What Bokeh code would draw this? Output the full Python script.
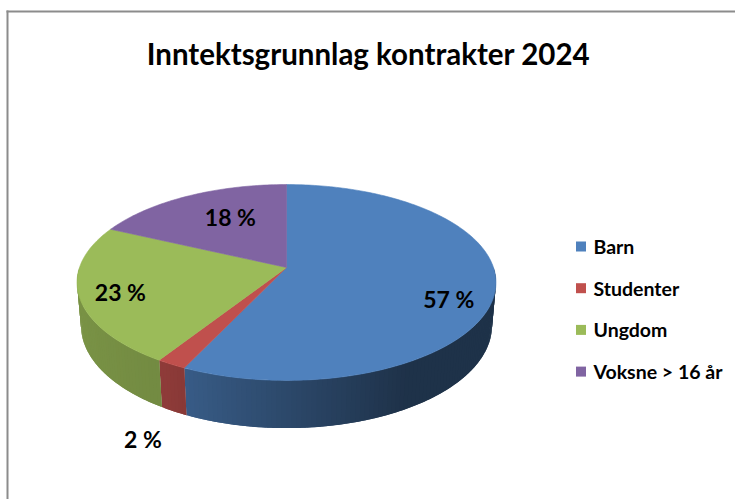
import numpy as np
from bokeh.plotting import figure
from bokeh.models import Range1d, Label
from bokeh.core.properties import value
from bokeh.embed import file_html
from bokeh.resources import INLINE

# ---- data ----
title = "Inntektsgrunnlag kontrakter 2024"
categories = ["Barn", "Studenter", "Ungdom", "Voksne > 16 år"]
shares = [57, 2, 23, 18]
pct_labels = ["57 %", "2 %", "23 %", "18 %"]
colors = ["#4F81BD", "#C0504D", "#9BBB59", "#8064A2"]

# ---- label placement (layout only) ----
label_r = [0.81, 1.23, 0.81, 0.65]
label_dphi = [-10.4, 0.0, 1.3, -5.4]
label_bottom = [False, True, False, False]

W, H = 735, 499
p = figure(width=W, height=H, x_range=Range1d(0, W), y_range=Range1d(H, 0),
           output_backend="svg", toolbar_location=None, min_border=0,
           x_axis_type=None, y_axis_type=None)
p.grid.visible = False
p.outline_line_color = None
p.background_fill_color = "white"
p.border_fill_color = "white"

FONT = "Lato"

# border of chart area
p.line(x=[7, 7], y=[10, H], line_color="#8c8c8c", line_width=2)
p.line(x=[6, W], y=[11, 11], line_color="#8c8c8c", line_width=2)

# ---- 3D pie geometry ----
CX, CY, R = 286.0, 267.0, 207.0
SA = 0.462
CA = np.sqrt(1 - SA ** 2)
DIST = 5.8 * R
DEPTH = 49.0


def proj(phi_deg, z=0.0, r=R):
    phi = np.radians(phi_deg)
    X = r * np.cos(phi)
    yb = r * np.sin(phi)
    Z = yb * CA - z * SA
    Yup = yb * SA + z * CA
    k = DIST / (DIST + Z)
    return CX + X * k, CY - Yup * k


def shade(hexcol, f):
    h = hexcol.lstrip("#")
    rgb = [int(h[i:i + 2], 16) for i in (0, 2, 4)]
    return "#%02x%02x%02x" % tuple(int(max(0, min(255, c * f))) for c in rgb)


def side_factor(phi_deg):
    c = np.cos(np.radians(phi_deg))
    if c < -0.5:
        return 0.74 - 0.1 * (c + 0.5)
    return 0.74 - 0.35 * min(1.0, (c + 0.5) / 1.0)


total = float(sum(shares))
starts, ends = [], []
acc = 0.0
for s in shares:
    a0 = 90.0 - acc * 360.0 / total
    acc += s
    a1 = 90.0 - acc * 360.0 / total
    starts.append(a0)
    ends.append(a1)

# sides (front half only, phi in [-180, 0]); strips overlap to avoid seams
sx, sy, sc = [], [], []
for a0, a1, col in zip(starts, ends, colors):
    lo, hi = max(a1, -180.0), min(a0, 0.0)
    if hi <= lo:
        continue
    n = max(2, int(np.ceil((hi - lo) / 1.2)))
    edges = np.linspace(lo, hi, n + 1)
    for i in range(n):
        e0 = edges[i]
        e1 = edges[min(i + 2, n)]
        arc = np.linspace(e0, e1, 4)
        tx, ty = proj(arc)
        bx, by = proj(arc[::-1], -DEPTH)
        sx.append(list(tx) + list(bx))
        sy.append(list(ty) + list(by))
        sc.append(shade(col, side_factor(0.5 * (edges[i] + edges[i + 1]))))
p.patches(sx, sy, fill_color=sc, line_color=None)

# top faces
txs, tys = [], []
for a0, a1 in zip(starts, ends):
    ang = np.linspace(a0, a1, max(3, int(abs(a0 - a1) / 1.0)))
    x, y = proj(ang)
    txs.append([CX] + list(x))
    tys.append([CY] + list(y))
p.patches(txs, tys, fill_color=colors, line_color=colors, line_width=0.6)

# percentage labels
lx, ly = [], []
for a0, a1, r, dphi, bot in zip(starts, ends, label_r, label_dphi, label_bottom):
    mid = 0.5 * (a0 + a1) + dphi
    x, y = proj(mid, -DEPTH if bot else 0.0, r * R)
    lx.append(x)
    ly.append(y)
p.text(x=lx, y=ly, text=pct_labels, text_font=value(FONT), text_font_style="bold",
       text_font_size="23px", text_color="black", text_align="center", text_baseline="middle")

# title
p.add_layout(Label(x=368, y=53, text=title, text_font=FONT, text_font_style="bold",
                   text_font_size="29.5px", text_color="black", text_align="center",
                   text_baseline="middle"))

# legend
LEG_X, LEG_Y0, LEG_DY = 580.5, 246.0, 41.7
leg_y = [LEG_Y0 + i * LEG_DY for i in range(len(categories))]
p.rect(x=[LEG_X] * len(categories), y=leg_y, width=10, height=10,
       fill_color=colors, line_color=None)
p.text(x=[LEG_X + 12.5] * len(categories), y=leg_y, text=categories,
       text_font=value(FONT), text_font_style="bold", text_font_size="19.5px",
       text_color="black", text_align="left", text_baseline="middle")

open("out.html", "w").write(file_html(p, INLINE))
